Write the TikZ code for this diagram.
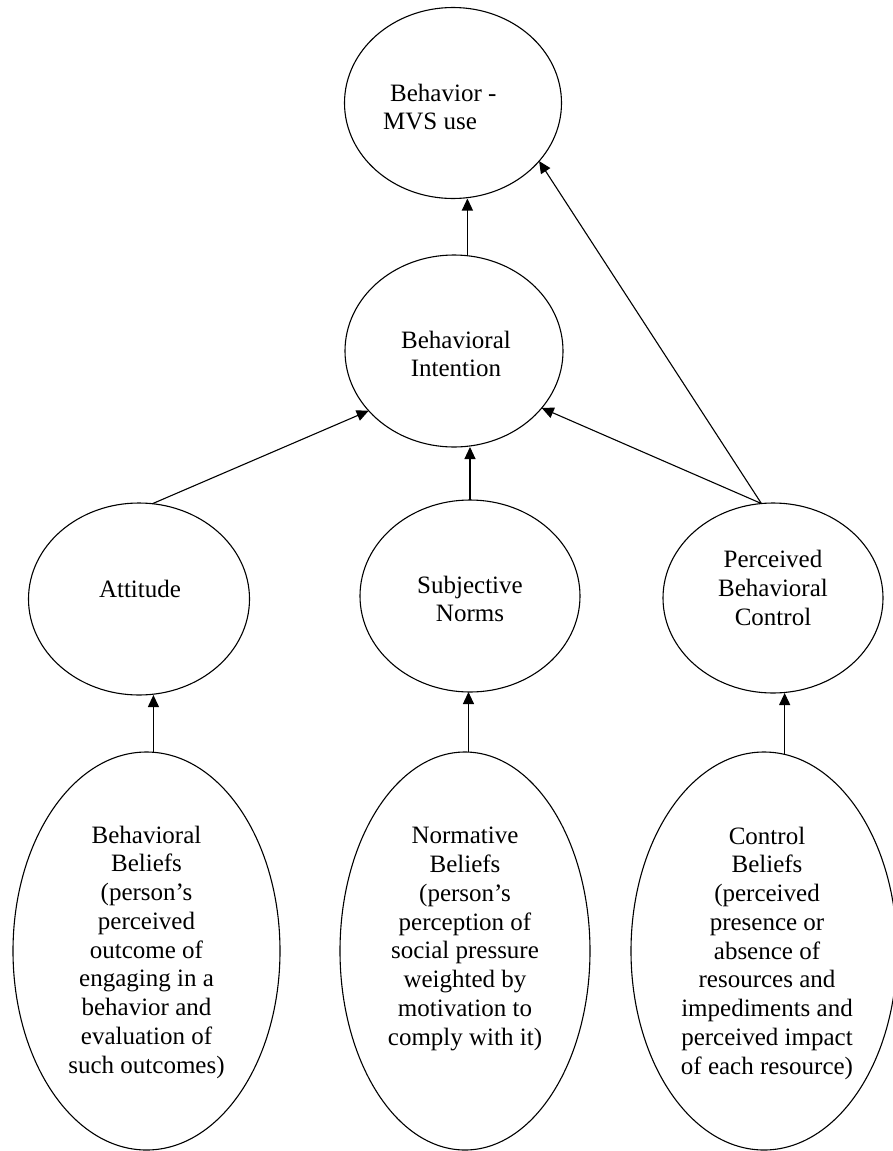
\documentclass[tikz,border=0pt]{standalone}
\usepackage{fontspec}
\setmainfont{Liberation Serif}
\usetikzlibrary{arrows.meta,shapes.geometric}
\begin{document}
\begin{tikzpicture}[x=1pt,y=-1pt,
  oval/.style={draw, ellipse, line width=1.1pt, inner sep=0pt, outer sep=0pt},
  txt/.style={font=\fontsize{25}{28.75}\selectfont, align=center, inner sep=0pt},
  arr/.style={line width=1.1pt, -{Triangle[length=12pt,width=11pt]}}]
\useasboundingbox (0,0) rectangle (893,1151);
% ellipses
\node[oval, minimum width=217pt, minimum height=191pt] (top) at (453,103) {};
\node[oval, minimum width=218pt, minimum height=192pt] (bi)  at (454,351) {};
\node[oval, minimum width=221pt, minimum height=192pt] (att) at (139,599) {};
\node[oval, minimum width=220pt, minimum height=192pt] (sn)  at (470,596) {};
\node[oval, minimum width=220pt, minimum height=190pt] (pbc) at (773,598) {};
\node[oval, minimum width=267pt, minimum height=398pt] (bb)  at (146.5,951) {};
\node[oval, minimum width=250pt, minimum height=398pt] (nb)  at (465,951) {};
\node[oval, minimum width=266pt, minimum height=398pt] (cb)  at (764,951) {};
% texts
\node[txt, align=left, anchor=west] (ttop) at (383,107) {\hspace*{7pt}Behavior -\\MVS use};
\node[txt] (tbi)  at (456,354) {Behavioral\\Intention};
\node[txt] (tatt) at (140,589) {Attitude};
\node[txt] (tsn)  at (470,599) {Subjective\\Norms};
\node[txt] (tpbc) at (773,588) {Perceived\\Behavioral\\Control};
\node[txt] (tbb)  at (146.5,952) {Behavioral\\Beliefs\\(person’s\\perceived\\outcome of\\engaging in a\\behavior and\\evaluation of\\such outcomes)};
\node[txt] (tnb)  at (465,939) {Normative\\Beliefs\\(person’s\\perception of\\social pressure\\weighted by\\motivation to\\comply with it)};
\node[txt] (tcb)  at (767,953) {Control\\Beliefs\\(perceived\\presence or\\absence of\\resources and\\impediments and\\perceived impact\\of each resource)};
% connectors
\draw[arr] (bi.82) -- (bi.82 |- top.south);
\draw[arr] (sn.north) -- (sn.north |- bi.south);
\draw[arr] (att.82) -- (bi.215);
\draw[arr] (pbc.97) -- (bi.-33.5);
\draw[arr] (pbc.97) -- (top.-34);
\draw[arr] (bb.88) -- (bb.88 |- att.south);
\draw[arr] (nb.89) -- (nb.89 |- sn.south);
\draw[arr] (cb.84) -- (cb.84 |- pbc.south);
\end{tikzpicture}
\end{document}
